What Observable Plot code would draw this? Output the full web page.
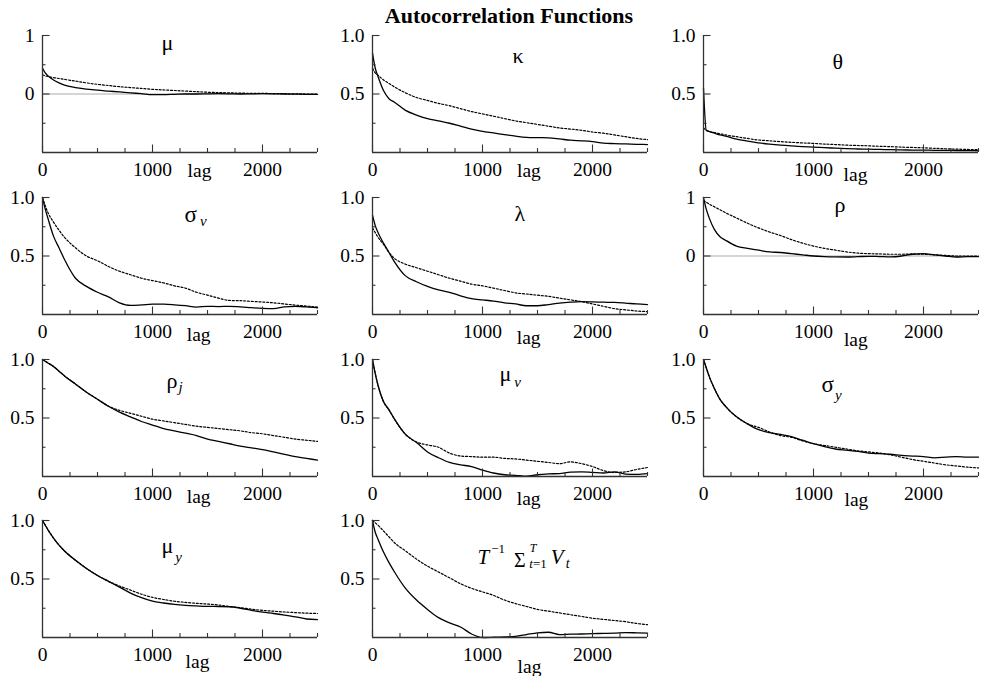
<!DOCTYPE html>
<html>
<head>
<meta charset="utf-8">
<script src="https://cdn.jsdelivr.net/npm/d3@7"></script>
<script src="https://cdn.jsdelivr.net/npm/@observablehq/plot@0.6"></script>
<style>
  html, body { margin: 0; padding: 0; background: #fff; overflow: hidden; }
  #wrap { position: relative; width: 981px; height: 676px; font-family: "Liberation Serif", "Times New Roman", serif; }
  #title { position: absolute; left: 309px; width: 400px; top: 5px; text-align: center; font-weight: bold; font-size: 22px; line-height: 22px; }
  .panel { position: absolute; }
  .panel svg { overflow: visible; background: transparent !important; }
  .panel svg text { font-family: "Liberation Serif", "Times New Roman", serif; }
</style>
</head>
<body>
<div id="wrap">
  <div id="title">Autocorrelation Functions</div>
</div>
<script>
// ---- data ----
const lags = [0,25,50,100,150,200,300,400,500,600,700,800,900,1000,1100,1200,1300,1400,1500,1600,1700,1800,1900,2000,2100,2200,2300,2400,2500];

const muSolid     = [0.44,0.36,0.31,0.24,0.19,0.15,0.11,0.085,0.065,0.05,0.035,0.02,0.005,-0.01,-0.01,-0.005,0,0,0.003,0.005,0.003,0,0.003,0.005,0.003,0,-0.003,-0.005,-0.005];
const muDotted    = [0.33,0.31,0.3,0.28,0.265,0.25,0.22,0.19,0.165,0.145,0.125,0.11,0.095,0.08,0.07,0.06,0.05,0.04,0.03,0.025,0.02,0.015,0.012,0.01,0.008,0.005,0.003,0,0];
const kappaSolid  = [0.85,0.72,0.65,0.53,0.46,0.43,0.36,0.32,0.29,0.27,0.25,0.225,0.2,0.18,0.167,0.153,0.14,0.13,0.127,0.125,0.116,0.105,0.1,0.093,0.08,0.076,0.073,0.07,0.068];
const kappaDotted = [0.72,0.68,0.66,0.62,0.59,0.56,0.51,0.47,0.445,0.42,0.4,0.375,0.35,0.33,0.31,0.29,0.27,0.255,0.24,0.225,0.21,0.2,0.19,0.175,0.165,0.15,0.135,0.12,0.11];
const thetaSolid  = [0.55,0.19,0.18,0.165,0.15,0.14,0.115,0.098,0.083,0.072,0.063,0.056,0.05,0.046,0.041,0.037,0.033,0.03,0.028,0.026,0.024,0.022,0.021,0.02,0.019,0.018,0.017,0.016,0.015];
const thetaDotted = [0.21,0.19,0.18,0.17,0.16,0.15,0.135,0.12,0.107,0.1,0.093,0.087,0.082,0.078,0.072,0.068,0.063,0.06,0.057,0.053,0.05,0.046,0.043,0.04,0.036,0.032,0.029,0.026,0.024];
const sigmavSolid = [1.0,0.9,0.82,0.67,0.57,0.47,0.31,0.24,0.19,0.15,0.1,0.078,0.082,0.088,0.088,0.083,0.075,0.063,0.07,0.068,0.07,0.066,0.058,0.052,0.05,0.065,0.07,0.065,0.057];
const sigmavDotted= [1.0,0.93,0.87,0.79,0.72,0.66,0.57,0.5,0.46,0.41,0.37,0.34,0.31,0.29,0.27,0.245,0.225,0.19,0.165,0.14,0.12,0.118,0.112,0.107,0.1,0.09,0.08,0.072,0.063];
const lambdaSolid = [0.85,0.76,0.7,0.61,0.53,0.45,0.33,0.28,0.24,0.21,0.19,0.16,0.135,0.125,0.115,0.1,0.09,0.075,0.075,0.085,0.097,0.105,0.11,0.108,0.105,0.103,0.097,0.09,0.085];
const lambdaDotted= [0.74,0.7,0.66,0.6,0.53,0.48,0.43,0.4,0.37,0.34,0.31,0.285,0.26,0.245,0.225,0.205,0.185,0.175,0.165,0.155,0.14,0.125,0.11,0.09,0.07,0.05,0.04,0.03,0.025];
const rhoSolid    = [1.0,0.8,0.66,0.45,0.33,0.27,0.17,0.13,0.1,0.07,0.06,0.04,0.02,0,-0.01,-0.015,-0.017,-0.012,-0.005,-0.01,-0.015,0,0.03,0.04,0.02,0,-0.017,-0.01,-0.01];
const rhoDotted   = [0.95,0.92,0.89,0.84,0.79,0.74,0.65,0.56,0.48,0.41,0.35,0.28,0.22,0.17,0.13,0.1,0.07,0.05,0.04,0.035,0.03,0.03,0.035,0.03,0.02,0.01,0,0,0];
const rhojSolid   = [1.0,0.985,0.97,0.94,0.9,0.86,0.79,0.72,0.66,0.6,0.55,0.51,0.47,0.44,0.41,0.39,0.37,0.35,0.32,0.3,0.28,0.26,0.245,0.23,0.21,0.19,0.17,0.155,0.14];
const rhojDotted  = [1.0,0.985,0.97,0.94,0.9,0.86,0.79,0.72,0.66,0.6,0.565,0.54,0.515,0.49,0.475,0.46,0.445,0.43,0.42,0.41,0.4,0.39,0.375,0.365,0.35,0.335,0.32,0.31,0.3];
const muvSolid    = [1.0,0.88,0.78,0.64,0.57,0.49,0.36,0.29,0.21,0.16,0.12,0.1,0.085,0.055,0.03,0.015,0.01,0.002,0.015,0.022,0.025,0.038,0.04,0.035,0.03,0.04,0.02,0.018,0.025];
const muvDotted   = [1.0,0.88,0.78,0.64,0.57,0.49,0.36,0.295,0.27,0.25,0.2,0.175,0.17,0.165,0.165,0.155,0.15,0.14,0.13,0.12,0.11,0.125,0.11,0.085,0.05,0.035,0.04,0.06,0.077];
const sigmaySolid = [1.0,0.93,0.86,0.75,0.66,0.6,0.51,0.45,0.4,0.375,0.36,0.34,0.31,0.28,0.255,0.235,0.225,0.215,0.2,0.195,0.19,0.18,0.175,0.17,0.16,0.165,0.17,0.165,0.165];
const sigmayDotted= [1.0,0.93,0.86,0.75,0.66,0.6,0.51,0.45,0.42,0.38,0.35,0.335,0.305,0.28,0.265,0.25,0.235,0.22,0.21,0.2,0.185,0.165,0.145,0.13,0.115,0.1,0.09,0.08,0.073];
const muySolid    = [1.0,0.96,0.92,0.85,0.79,0.74,0.66,0.59,0.53,0.48,0.43,0.38,0.34,0.31,0.295,0.283,0.275,0.27,0.266,0.265,0.263,0.25,0.232,0.216,0.205,0.192,0.177,0.158,0.153];
const muyDotted   = [1.0,0.96,0.92,0.85,0.79,0.74,0.66,0.59,0.53,0.48,0.44,0.405,0.37,0.343,0.325,0.31,0.3,0.292,0.286,0.278,0.265,0.255,0.242,0.232,0.225,0.218,0.213,0.208,0.205];
const vbarSolid   = [1.0,0.9,0.84,0.73,0.64,0.56,0.42,0.32,0.24,0.17,0.125,0.09,0.03,0,0.002,0.005,0.01,0.025,0.04,0.045,0.025,0.028,0.03,0.033,0.035,0.037,0.042,0.04,0.037];
const vbarDotted  = [1.0,0.98,0.96,0.91,0.86,0.81,0.74,0.67,0.61,0.56,0.51,0.46,0.42,0.39,0.36,0.32,0.29,0.265,0.24,0.225,0.21,0.195,0.18,0.165,0.155,0.145,0.135,0.12,0.11];

const xMajorTicks = [0, 1000, 2000];
const xMinorTicks = [250, 500, 750, 1250, 1500, 1750, 2250, 2500];

// panel titles as text segments
const titleMu     = [{t:"μ"}];
const titleKappa  = [{t:"κ"}];
const titleTheta  = [{t:"θ"}];
const titleSigmaV = [{t:"σ"}, {t:"v", it:1}];
const titleLambda = [{t:"λ"}];
const titleRho    = [{t:"ρ"}];
const titleRhoJ   = [{t:"ρ"}, {t:"j", it:1}];
const titleMuV    = [{t:"μ"}, {t:"v", it:1}];
const titleSigmaY = [{t:"σ"}, {t:"y", it:1}];
const titleMuY    = [{t:"μ"}, {t:"y", it:1}];
const titleVbar   = [{t:"T", it:1}, {t:"−1"}, {t:"Σ"}, {t:"T", it:1}, {t:"t", it:1}, {t:"=1"}, {t:"V", it:1}, {t:"t", it:1}];

// ---- layout (positions / styles) ----
const colLeft = [0, 330, 661];
const rowTop = [35, 197, 359, 520];
const PW = 275, PH = 117, MT = 6, MB = 40, ML = 42, MR = 3;
const SERIF = "'Liberation Serif', 'Times New Roman', serif";

const panels = [
  {solid: muSolid, dotted: muDotted, domain: [-1, 1], title: titleMu, col: 0, row: 0, tdx: 119, tdy: 14, fs: [22], bs: [0], dxs: [0], lagX: 1427, lagDy: 1},
  {solid: kappaSolid, dotted: kappaDotted, domain: [0, 1], title: titleKappa, col: 1, row: 0, tdx: 140, tdy: 27, fs: [22], bs: [0], dxs: [0], lagX: 1422, lagDy: 1},
  {solid: thetaSolid, dotted: thetaDotted, domain: [0, 1], title: titleTheta, col: 2, row: 0, tdx: 129, tdy: 33, fs: [22], bs: [0], dxs: [0], lagX: 1382, lagDy: 5},
  {solid: sigmavSolid, dotted: sigmavDotted, domain: [0, 1], title: titleSigmaV, col: 0, row: 1, tdx: 142, tdy: 24.5, fs: [23, 15], bs: [0, 3.5], dxs: [0, 3], lagX: 1420, lagDy: 3},
  {solid: lambdaSolid, dotted: lambdaDotted, domain: [0, 1], title: titleLambda, col: 1, row: 1, tdx: 142, tdy: 23, fs: [22], bs: [0], dxs: [0], lagX: 1420, lagDy: 6},
  {solid: rhoSolid, dotted: rhoDotted, domain: [-1, 1], title: titleRho, col: 2, row: 1, tdx: 131, tdy: 14.5, fs: [22], bs: [0], dxs: [0], lagX: 1385, lagDy: 8},
  {solid: rhojSolid, dotted: rhojDotted, domain: [0, 1], title: titleRhoJ, col: 0, row: 2, tdx: 124, tdy: 28, fs: [22, 15], bs: [0, 4.5], dxs: [0, 1], lagX: 1420, lagDy: 3},
  {solid: muvSolid, dotted: muvDotted, domain: [0, 1], title: titleMuV, col: 1, row: 2, tdx: 127, tdy: 21, fs: [22, 15], bs: [0, 6.5], dxs: [0, 3], lagX: 1420, lagDy: 4.5},
  {solid: sigmaySolid, dotted: sigmayDotted, domain: [0, 1], title: titleSigmaY, col: 2, row: 2, tdx: 118, tdy: 32.5, fs: [23, 15], bs: [0, 8], dxs: [0, 1], lagX: 1390, lagDy: 6},
  {solid: muySolid, dotted: muyDotted, domain: [0, 1], title: titleMuY, col: 0, row: 3, tdx: 119, tdy: 32, fs: [22, 15], bs: [0, 9.5], dxs: [0, 2], lagX: 1409, lagDy: 6.5},
  {solid: vbarSolid, dotted: vbarDotted, domain: [0, 1], title: titleVbar, col: 1, row: 3, tdx: 105, tdy: 43, fs: [21, 13, 20, 12, 13, 13, 21, 14], bs: [0, -11, 3, -12, 4, 4, 0, 4], dxs: [0, 2, 9, 4, -7, 0, 4, 2], lagX: 1427, lagDy: 11.5}
];

const wrap = document.getElementById("wrap");
const AX = "#333";

for (const p of panels) {
  const [y0, y1] = p.domain;
  const span = y1 - y0;
  const pxY = (px) => px / PH * span;   // pixel length -> y data units
  const pxX = (px) => px / PW * 2500;   // pixel length -> x data units
  const solidData = lags.map((lag, i) => ({lag, v: p.solid[i]}));
  const dottedData = lags.map((lag, i) => ({lag, v: p.dotted[i]}));
  const signed = y0 < 0;
  const yMajor = signed ? [0, 1] : [0.5, 1];
  const yMinor = signed ? [-0.5, 0.5] : [0.25, 0.75];
  const titleText = p.title.map(s => s.t).join("");

  const svg = Plot.plot({
    width: ML + PW + MR,
    height: MT + PH + MB,
    marginLeft: ML, marginRight: MR, marginTop: MT, marginBottom: MB,
    x: {domain: [0, 2500], axis: null},
    y: {domain: p.domain, axis: null},
    style: `background: transparent; font-family: ${SERIF}; font-size: 19.5px; overflow: visible; color: #000;`,
    marks: [
      signed ? Plot.ruleY([0], {stroke: "#aaa", strokeWidth: 1}) : null,
      Plot.line(dottedData, {x: "lag", y: "v", stroke: "#000", strokeWidth: 1.2, strokeDasharray: "2,1.8", curve: "monotone-x"}),
      Plot.line(solidData, {x: "lag", y: "v", stroke: "#000", strokeWidth: 1.3, curve: "monotone-x"}),
      Plot.ruleX([0], {stroke: AX, strokeWidth: 1.3}),
      Plot.ruleY([y0], {stroke: AX, strokeWidth: 1.3}),
      Plot.ruleX(xMajorTicks, {x: d => d, y1: y0, y2: y0 + pxY(7.5), stroke: AX, strokeWidth: 1.1}),
      Plot.ruleX(xMinorTicks, {x: d => d, y1: y0, y2: y0 + pxY(4), stroke: AX, strokeWidth: 1.1}),
      Plot.ruleY(yMajor, {y: d => d, x1: 0, x2: pxX(7.5), stroke: AX, strokeWidth: 1.1}),
      Plot.ruleY(yMinor, {y: d => d, x1: 0, x2: pxX(3.5), stroke: AX, strokeWidth: 1.1}),
      Plot.axisX({ticks: xMajorTicks, tickFormat: "d", tickSize: 0, tickPadding: 10, label: null, fontSize: 19.5, fontFamily: SERIF}),
      Plot.axisY({ticks: yMajor, tickFormat: signed ? "d" : ".1f", tickSize: 0, tickPadding: 8, label: null, fontSize: 19.5, fontFamily: SERIF}),
      Plot.text(["lag"], {x: () => p.lagX, y: () => y0, text: d => d, lineAnchor: "top", textAnchor: "middle", dy: 10 + p.lagDy, fontSize: 19.5, fontFamily: SERIF}),
      Plot.text([titleText], {frameAnchor: "top-left", dx: p.tdx, dy: p.tdy, textAnchor: "start", lineAnchor: "bottom", fontSize: 22, fontFamily: SERIF})
    ]
  });
  svg.style.fontFamily = SERIF;

  // rich title with subscripts / superscripts
  const t = [...svg.querySelectorAll("text")].find(e => e.textContent === titleText);
  if (t) {
    t.textContent = "";
    let prevB = 0;
    p.title.forEach((s, i) => {
      const ts = document.createElementNS("http://www.w3.org/2000/svg", "tspan");
      ts.textContent = s.t;
      ts.setAttribute("font-size", p.fs[i] ?? p.fs[p.fs.length - 1]);
      if (s.it) ts.setAttribute("font-style", "italic");
      const b = p.bs[i] ?? 0;
      ts.setAttribute("dy", b - prevB);
      prevB = b;
      const dx = p.dxs[i] ?? 0;
      if (dx) ts.setAttribute("dx", dx);
      t.appendChild(ts);
    });
  }

  const div = document.createElement("div");
  div.className = "panel";
  div.style.left = colLeft[p.col] + "px";
  div.style.top = (rowTop[p.row] - MT) + "px";
  div.appendChild(svg);
  wrap.appendChild(div);
}
</script>
</body>
</html>
